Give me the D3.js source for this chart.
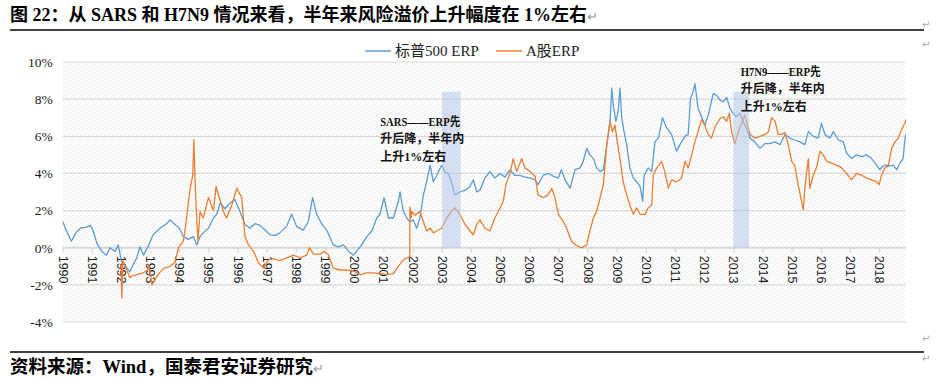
<!DOCTYPE html>
<html>
<head>
<meta charset="utf-8">
<script src="https://cdn.jsdelivr.net/npm/d3@7"></script>
<style>
  html, body { margin: 0; padding: 0; background: #fff; }
  svg { display: block; }
</style>
</head>
<body>
<svg id="chart" width="937" height="380"></svg>
<script>
// ---------------- DATA ----------------
const titleText = "图 22：从 SARS 和 H7N9 情况来看，半年来风险溢价上升幅度在 1%左右";
const sourceText = "资料来源：Wind，国泰君安证券研究";
const seriesNames = ["标普500 ERP", "A股ERP"];
const yTicks = [-4, -2, 0, 2, 4, 6, 8, 10];
const yearTicks = [1990,1991,1992,1993,1994,1995,1996,1997,1998,1999,2000,2001,2002,2003,2004,2005,2006,2007,2008,2009,2010,2011,2012,2013,2014,2015,2016,2017,2018];

// S&P 500 ERP (%), time in decimal years
const spYears = [1990.00,1990.10,1990.30,1990.45,1990.60,1990.80,1990.95,1991.05,1991.17,1991.34,1991.50,1991.62,1991.80,1991.90,1992.02,1992.20,1992.30,1992.42,1992.54,1992.65,1992.77,1992.94,1993.10,1993.34,1993.57,1993.68,1993.85,1994.00,1994.14,1994.31,1994.48,1994.60,1994.71,1994.88,1995.00,1995.17,1995.28,1995.40,1995.57,1995.74,1995.90,1996.08,1996.25,1996.42,1996.60,1996.77,1996.94,1997.10,1997.28,1997.45,1997.68,1997.85,1998.02,1998.25,1998.42,1998.57,1998.71,1998.88,1999.05,1999.28,1999.45,1999.63,1999.80,1999.97,2000.08,2000.25,2000.43,2000.60,2000.77,2000.88,2001.02,2001.17,2001.34,2001.51,2001.57,2001.68,2001.80,2001.90,2002.02,2002.14,2002.25,2002.37,2002.48,2002.60,2002.71,2002.83,2003.00,2003.10,2003.22,2003.33,2003.45,2003.62,2003.80,2003.97,2004.08,2004.20,2004.31,2004.48,2004.65,2004.82,2005.00,2005.17,2005.34,2005.50,2005.68,2005.85,2006.03,2006.20,2006.30,2006.48,2006.65,2006.83,2007.00,2007.10,2007.23,2007.40,2007.57,2007.74,2007.85,2007.97,2008.08,2008.20,2008.31,2008.43,2008.54,2008.66,2008.77,2008.83,2008.88,2008.97,2009.05,2009.11,2009.17,2009.25,2009.34,2009.45,2009.57,2009.68,2009.80,2009.89,2009.94,2010.08,2010.20,2010.31,2010.43,2010.57,2010.71,2010.88,2011.05,2011.17,2011.34,2011.45,2011.53,2011.62,2011.68,2011.79,2011.91,2012.02,2012.14,2012.31,2012.43,2012.54,2012.66,2012.77,2012.88,2012.99,2013.10,2013.22,2013.33,2013.45,2013.57,2013.74,2013.91,2014.08,2014.25,2014.43,2014.60,2014.77,2014.94,2015.10,2015.28,2015.45,2015.57,2015.74,2015.91,2016.02,2016.14,2016.31,2016.43,2016.60,2016.77,2016.88,2017.05,2017.22,2017.40,2017.57,2017.74,2017.91,2018.02,2018.14,2018.25,2018.37,2018.48,2018.60,2018.71,2018.82,2018.88,2018.92];
const spERP = [1.42,1.0,0.35,0.8,1.05,1.1,1.2,0.9,0.25,-0.2,-0.4,0.0,-0.2,0.15,-0.75,-1.1,-1.3,-0.9,-0.55,0.05,-0.4,0.1,0.7,1.05,1.3,1.5,1.25,1.05,0.6,0.45,0.6,0.15,0.6,0.9,1.05,1.6,1.8,2.4,2.1,2.4,2.6,1.95,1.25,1.05,1.3,1.2,0.95,0.7,0.65,0.8,1.15,1.8,1.15,0.95,1.4,2.7,1.8,1.3,0.95,0.15,0.05,0.15,-0.2,-0.4,-0.2,0.15,0.6,0.9,1.6,1.8,2.7,1.6,1.6,2.5,3.0,1.95,1.6,1.4,1.5,1.05,1.6,2.85,3.55,4.45,3.55,3.9,4.45,4.1,4.0,3.55,2.85,3.0,3.1,3.3,3.65,3.0,3.1,3.75,4.1,3.75,4.0,3.8,4.2,3.9,3.9,3.8,3.75,3.65,3.4,3.9,4.0,3.85,3.75,4.2,3.65,3.2,4.2,4.3,4.65,5.35,5.0,4.8,4.3,4.1,4.2,5.55,6.8,8.6,7.7,6.8,7.35,8.6,7.0,6.25,5.55,4.3,3.75,3.55,3.3,2.5,3.9,4.3,4.1,5.7,5.9,7.0,6.45,6.1,5.2,5.55,6.0,6.1,8.05,8.4,8.85,7.5,7.05,6.6,7.15,8.3,8.2,7.95,7.85,8.1,7.5,7.25,7.05,7.25,6.8,6.45,5.9,5.7,5.35,5.6,5.6,5.7,5.55,6.1,5.9,5.8,5.7,5.55,6.25,6.0,5.9,6.7,6.1,5.9,6.25,5.8,5.7,5.1,4.8,5.0,4.9,5.0,4.8,4.45,4.2,4.4,4.45,4.4,4.45,4.2,4.55,4.8,5.8,6.1];

// A-share ERP (%)
const aYears = [1992.00,1992.03,1992.06,1992.14,1992.30,1992.42,1992.54,1992.77,1992.92,1992.95,1993.06,1993.23,1993.35,1993.47,1993.68,1993.85,1993.97,1994.14,1994.25,1994.37,1994.46,1994.50,1994.54,1994.60,1994.64,1994.71,1994.82,1995.00,1995.17,1995.26,1995.34,1995.51,1995.62,1995.80,1995.97,1996.14,1996.25,1996.37,1996.55,1996.71,1996.88,1997.05,1997.23,1997.45,1997.68,1997.91,1998.14,1998.37,1998.46,1998.60,1998.83,1998.94,1999.10,1999.28,1999.51,1999.74,1999.97,2000.20,2000.43,2000.66,2000.88,2001.10,2001.34,2001.51,2001.68,2001.80,2001.90,2001.91,2001.95,2001.97,2002.09,2002.25,2002.37,2002.48,2002.60,2002.71,2002.83,2003.00,2003.17,2003.33,2003.45,2003.62,2003.80,2003.97,2004.08,2004.20,2004.31,2004.48,2004.65,2004.82,2004.94,2005.11,2005.20,2005.34,2005.45,2005.57,2005.74,2005.85,2006.03,2006.20,2006.30,2006.48,2006.65,2006.77,2006.88,2007.00,2007.17,2007.28,2007.45,2007.63,2007.80,2007.97,2008.08,2008.20,2008.31,2008.43,2008.54,2008.66,2008.77,2008.85,2008.94,2009.02,2009.11,2009.22,2009.34,2009.45,2009.57,2009.68,2009.80,2009.97,2010.08,2010.20,2010.25,2010.37,2010.54,2010.65,2010.77,2010.88,2011.05,2011.22,2011.34,2011.45,2011.57,2011.68,2011.79,2011.91,2012.02,2012.14,2012.25,2012.37,2012.54,2012.66,2012.77,2012.86,2012.94,2013.05,2013.17,2013.28,2013.39,2013.45,2013.57,2013.74,2013.91,2014.08,2014.20,2014.31,2014.43,2014.54,2014.65,2014.77,2014.88,2015.00,2015.10,2015.22,2015.34,2015.40,2015.45,2015.57,2015.62,2015.74,2015.85,2015.97,2016.08,2016.20,2016.37,2016.54,2016.71,2016.88,2017.05,2017.22,2017.40,2017.57,2017.74,2017.91,2018.00,2018.08,2018.20,2018.31,2018.43,2018.54,2018.65,2018.77,2018.88,2018.92];
const aERP = [-0.9,-2.7,-0.7,-1.0,-1.6,-1.5,-1.45,-1.35,-1.2,-0.9,-2.0,-1.55,-1.3,-1.1,-1.0,-0.8,0.0,0.35,1.6,3.2,3.9,5.8,3.6,1.4,0.35,1.95,1.6,2.7,2.0,3.3,2.85,1.95,1.6,2.3,3.2,2.7,0.6,0.15,-0.2,-0.8,-1.1,-0.65,-0.6,-0.7,-0.55,-0.4,-0.55,-0.4,0.0,-0.35,-0.35,-0.2,-0.35,-1.1,-1.2,-1.2,-1.25,-1.45,-1.35,-1.35,-1.4,-1.45,-1.4,-1.0,-0.65,-0.55,-0.5,2.2,1.6,1.95,1.75,1.95,1.4,0.9,1.05,0.8,0.9,1.05,1.6,1.95,2.15,1.8,1.25,0.9,0.7,1.25,1.5,1.05,0.9,1.6,1.95,2.5,3.4,4.0,4.8,4.1,4.8,4.3,4.1,3.85,2.85,2.7,2.85,3.2,2.7,1.8,1.4,1.05,0.35,0.1,0.0,0.15,0.9,1.6,1.95,2.7,3.4,5.55,6.8,6.25,6.6,5.7,4.8,3.55,2.85,2.3,1.8,2.15,1.8,1.8,2.15,2.3,3.9,4.3,4.65,4.1,3.2,3.65,3.55,3.75,4.65,4.3,5.0,5.7,6.25,6.9,6.6,6.1,5.9,6.5,6.95,7.05,6.8,7.25,6.25,5.6,6.25,6.7,7.15,6.8,6.1,5.9,6.0,6.1,6.25,7.0,6.8,6.1,6.1,6.2,5.55,4.65,4.45,3.4,2.5,2.05,3.2,4.8,3.2,3.9,4.3,5.2,5.0,4.65,4.55,4.45,4.3,4.0,3.65,4.0,3.9,3.75,3.65,3.55,3.4,3.9,4.3,4.4,5.35,5.7,5.9,6.35,6.7,6.9];

// Shaded epidemic windows (start year, end year, top value %)
const bandStarts = [2003.01, 2013.0];
const bandEnds = [2003.65, 2013.54];
const bandTops = [8.4, 8.4];
const annotationLines = [
  ["SARS——ERP先", "升后降，半年内", "上升1%左右"],
  ["H7N9——ERP先", "升后降，半年内", "上升1%左右"]
];
const annotationAnchors = [2000.89, 2013.25]; // x anchor (year) of annotation text
const annotationTopVals = [6.56, 9.25];       // y anchor (value) of first line baseline

// ---------------- DRAW ----------------
const svg = d3.select("#chart");
const W = 937, H = 380;
const plot = { left: 62.7, right: 906, top: 62, bottom: 322 };
const blue = "#5b9bd5", orange = "#ed7d31";
const serif = "'Liberation Serif', 'Times New Roman', 'Noto Sans CJK SC', serif";
const sans = "'Liberation Sans', Arial, 'Noto Sans CJK SC', sans-serif";

svg.append("rect").attr("width", W).attr("height", H).attr("fill", "#fff");

const x = d3.scaleLinear().domain([1990, 2018.92]).range([plot.left, plot.right]);
const y = d3.scaleLinear().domain([-4, 10]).range([plot.bottom, plot.top]);

// hatch pattern
const defs = svg.append("defs");
const pat = defs.append("pattern").attr("id", "hatch").attr("patternUnits", "userSpaceOnUse")
  .attr("width", 4).attr("height", 4);
pat.append("path").attr("d", "M-1,1 l2,-2 M0,4 l4,-4 M3,5 l2,-2")
  .attr("stroke", "#e9e9e9").attr("stroke-width", 0.8);
defs.append("clipPath").attr("id", "clip").append("rect")
  .attr("x", plot.left).attr("y", plot.top - 2).attr("width", plot.right - plot.left).attr("height", plot.bottom - plot.top + 4);

svg.append("rect").attr("x", plot.left).attr("y", plot.top)
  .attr("width", plot.right - plot.left).attr("height", plot.bottom - plot.top)
  .attr("fill", "url(#hatch)");

// gridlines
svg.append("g").selectAll("line").data(yTicks).join("line")
  .attr("x1", plot.left).attr("x2", plot.right)
  .attr("y1", d => y(d)).attr("y2", d => y(d))
  .attr("stroke", "#d9d9d9").attr("stroke-width", d => d === 0 ? 2 : 1.2);

// y axis labels
const yAxis = d3.axisLeft(y).tickValues(yTicks).tickSize(0).tickPadding(0).tickFormat(d => d + "%");
const gy = svg.append("g").attr("transform", `translate(${plot.left - 10},0)`).call(yAxis);
gy.select(".domain").remove();
gy.selectAll("text").attr("font-family", serif).attr("font-size", 13.5).attr("fill", "#1a1a1a");

// x axis at 0%
const xAxis = d3.axisBottom(x).tickValues(yearTicks).tickSize(5).tickFormat(d3.format("d"));
const gx = svg.append("g").attr("transform", `translate(0,${y(0)})`).call(xAxis);
gx.select(".domain").remove();
gx.selectAll(".tick line").attr("stroke", "#d9d9d9").attr("stroke-width", 1.2);
gx.selectAll("text")
  .attr("transform", "rotate(90)")
  .attr("x", 8).attr("y", 0).attr("dy", "0.36em")
  .attr("text-anchor", "start")
  .attr("font-family", sans).attr("font-size", 12.5).attr("fill", "#1a1a1a");

// lines
const g = svg.append("g").attr("clip-path", "url(#clip)");
const line = d3.line().x(d => x(d[0])).y(d => y(d[1]));
const spData = spYears.map((t, i) => [t, spERP[i]]);
const aData = aYears.map((t, i) => [t, aERP[i]]);
g.append("path").datum(spData).attr("d", line).attr("fill", "none")
  .attr("stroke", blue).attr("stroke-width", 1.3).attr("stroke-linejoin", "round");
g.append("path").datum(aData).attr("d", line).attr("fill", "none")
  .attr("stroke", orange).attr("stroke-width", 1.3).attr("stroke-linejoin", "round");

// shaded bands (on top, semi-transparent)
svg.append("g").selectAll("rect").data(bandStarts).join("rect")
  .attr("x", (d) => x(d))
  .attr("width", (d, i) => x(bandEnds[i]) - x(d))
  .attr("y", (d, i) => y(bandTops[i]))
  .attr("height", (d, i) => y(0) - y(bandTops[i]))
  .attr("fill", "#b4c7e7").attr("fill-opacity", 0.55);

// annotations
annotationLines.forEach((lines, k) => {
  const t = svg.append("text").attr("font-family", serif).attr("font-size", 12)
    .attr("font-weight", "bold").attr("fill", "#111");
  lines.forEach((s, j) => {
    const ts = t.append("tspan").attr("x", x(annotationAnchors[k])).attr("y", y(annotationTopVals[k]) + j * 17.5).text(s);
    if (j === 0) ts.attr("textLength", 80).attr("lengthAdjust", "spacingAndGlyphs");
  });
});

// legend
const legend = svg.append("g").attr("transform", "translate(0,51)");
const legendItems = [
  { name: seriesNames[0], color: blue, x0: 365 },
  { name: seriesNames[1], color: orange, x0: 496 }
];
legendItems.forEach(it => {
  legend.append("line").attr("x1", it.x0).attr("x2", it.x0 + 26).attr("y1", 0).attr("y2", 0)
    .attr("stroke", it.color).attr("stroke-width", 1.5);
  legend.append("text").attr("x", it.x0 + 30).attr("y", 5)
    .attr("font-family", serif).attr("font-size", 15).attr("fill", "#222").text(it.name);
});

// title, rules, source
svg.append("text").attr("x", 10).attr("y", 21)
  .attr("font-family", serif).attr("font-size", 18).attr("font-weight", "bold").attr("fill", "#000")
  .text(titleText)
  .append("tspan").attr("fill", "#999").attr("font-weight", "normal").attr("font-size", 13).text("↵");
svg.append("line").attr("x1", 10).attr("x2", 924).attr("y1", 30).attr("y2", 30)
  .attr("stroke", "#000").attr("stroke-width", 1.5);
svg.append("line").attr("x1", 10).attr("x2", 924).attr("y1", 352).attr("y2", 352)
  .attr("stroke", "#000").attr("stroke-width", 1.5);
svg.append("text").attr("x", 10).attr("y", 373)
  .attr("font-family", serif).attr("font-size", 18.5).attr("font-weight", "bold").attr("fill", "#000")
  .text(sourceText)
  .append("tspan").attr("fill", "#999").attr("font-weight", "normal").attr("font-size", 13).text("↵");
[28, 48, 342, 362].forEach(yy => {
  svg.append("text").attr("x", 922).attr("y", yy).attr("font-size", 10)
    .attr("font-family", "DejaVu Sans").attr("fill", "#aaa").text("↵");
});
</script>
</body>
</html>
